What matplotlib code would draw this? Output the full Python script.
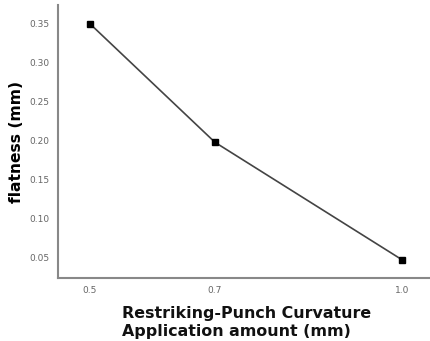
import numpy as np
import matplotlib.pyplot as plt

x_vals = [0.5, 0.7, 1.0]
flatness = [0.35, 0.198, 0.047]
y_ticks = [0.05, 0.10, 0.15, 0.20, 0.25, 0.30, 0.35]
x_labels = ["0.5", "0.7", "1.0"]

fig = plt.figure(figsize=(4.3, 3.41), dpi=100)
ax = fig.add_axes([58 / 430, 1 - 278 / 341, 372 / 430, 273 / 341])

ax.plot(x_vals, flatness, color="#444444", lw=1.2, marker="s", ms=4.5,
        mfc="black", mec="black")

ax.set_xlim(0.449, 1.044)
ax.set_ylim(0.024, 0.374)
ax.set_xticks(x_vals)
ax.set_xticklabels(x_labels)
ax.set_yticks(y_ticks)
ax.set_yticklabels(["%.2f" % v for v in y_ticks])
ax.tick_params(length=0, labelsize=6.5, colors="#666666", pad=6)

for s in ["top", "right"]:
    ax.spines[s].set_visible(False)
for s in ["left", "bottom"]:
    ax.spines[s].set_color("#888888")
    ax.spines[s].set_linewidth(1.5)

ax.set_ylabel("flatness (mm)", fontsize=11.2, fontweight="bold", labelpad=4)
ax.set_xlabel("Restriking-Punch Curvature\nApplication amount (mm)",
              fontsize=11.4, fontweight="bold", labelpad=8, ha="left",
              x=(122 - 58) / 372, multialignment="left", color="#111111")

fig.savefig("out.png", dpi=100)
